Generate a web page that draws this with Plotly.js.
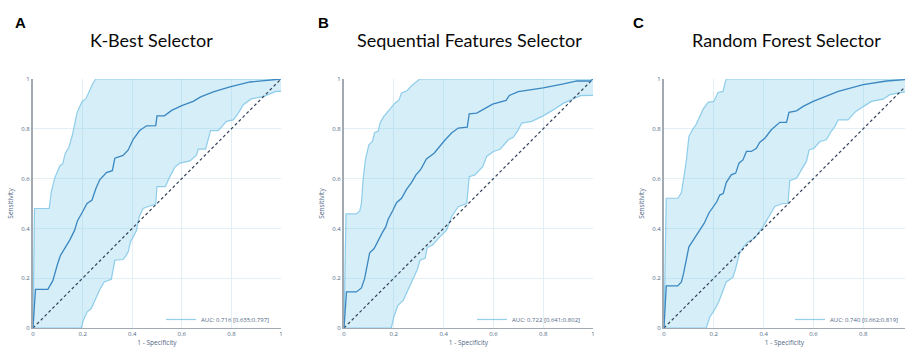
<!DOCTYPE html>
<html>
<head>
<meta charset="utf-8">
<script src="https://cdn.plot.ly/plotly-3.0.1.min.js"></script>
<style>html,body{margin:0;padding:0;background:#fff}#chart{width:905px;height:347px}</style>
</head>
<body>
<div id="chart"></div>
<script>
// ---------- data ----------
const panelLetters = ["A", "B", "C"];
const panelTitles = ["K-Best Selector", "Sequential Features Selector", "Random Forest Selector"];
const aucLabels = ["AUC: 0.716 [0.635;0.797]", "AUC: 0.722 [0.641;0.802]", "AUC: 0.740 [0.662;0.819]"];
const diagX = [0, 1];
const diagY = [0, 1];

const kbestMeanX = [0, 0.01, 0.06, 0.08, 0.097, 0.11, 0.128, 0.148, 0.168, 0.179, 0.2, 0.218, 0.238, 0.254, 0.269, 0.296, 0.32, 0.33, 0.363, 0.384, 0.404, 0.43, 0.458, 0.495, 0.5, 0.53, 0.559, 0.6, 0.646, 0.676, 0.727, 0.794, 0.875, 1];
const kbestMeanY = [0, 0.155, 0.155, 0.19, 0.25, 0.29, 0.32, 0.353, 0.393, 0.43, 0.467, 0.5, 0.514, 0.561, 0.595, 0.624, 0.632, 0.682, 0.693, 0.715, 0.758, 0.793, 0.812, 0.813, 0.852, 0.852, 0.874, 0.893, 0.91, 0.928, 0.948, 0.968, 0.988, 1];
const kbestUpX = [0, 0.006, 0.065, 0.074, 0.087, 0.108, 0.12, 0.13, 0.145, 0.159, 0.178, 0.198, 0.213, 0.226, 0.242, 0.253, 1];
const kbestUpY = [0, 0.48, 0.48, 0.548, 0.601, 0.651, 0.66, 0.702, 0.726, 0.776, 0.866, 0.91, 0.92, 0.95, 0.984, 1, 1];
const kbestLoX = [0, 0.195, 0.202, 0.218, 0.235, 0.252, 0.269, 0.287, 0.316, 0.33, 0.363, 0.374, 0.384, 0.393, 0.404, 0.417, 0.428, 0.444, 0.471, 0.495, 0.5, 0.534, 0.552, 0.572, 0.592, 0.633, 0.66, 0.666, 0.696, 0.707, 0.716, 0.747, 0.78, 0.808, 0.828, 0.848, 0.88, 0.93, 0.98, 0.995, 1];
const kbestLoY = [0, 0, 0.028, 0.064, 0.078, 0.118, 0.154, 0.185, 0.196, 0.272, 0.275, 0.289, 0.306, 0.346, 0.369, 0.39, 0.447, 0.48, 0.49, 0.498, 0.568, 0.568, 0.608, 0.646, 0.662, 0.671, 0.695, 0.718, 0.718, 0.756, 0.793, 0.793, 0.83, 0.836, 0.863, 0.897, 0.92, 0.93, 0.95, 0.95, 0.95];

const seqMeanX = [0, 0.01, 0.05, 0.07, 0.083, 0.093, 0.103, 0.121, 0.134, 0.154, 0.168, 0.177, 0.195, 0.211, 0.231, 0.251, 0.271, 0.289, 0.309, 0.331, 0.362, 0.383, 0.403, 0.432, 0.459, 0.495, 0.503, 0.533, 0.553, 0.597, 0.651, 0.664, 0.7, 0.8, 0.882, 0.936, 0.99, 1];
const seqMeanY = [0, 0.145, 0.145, 0.161, 0.199, 0.252, 0.302, 0.319, 0.346, 0.383, 0.407, 0.436, 0.47, 0.503, 0.521, 0.557, 0.584, 0.615, 0.638, 0.679, 0.702, 0.729, 0.752, 0.783, 0.803, 0.807, 0.86, 0.863, 0.874, 0.899, 0.914, 0.934, 0.949, 0.964, 0.98, 0.992, 0.992, 1];
const seqUpX = [0, 0.008, 0.05, 0.063, 0.07, 0.077, 0.087, 0.1, 0.114, 0.123, 0.137, 0.146, 0.16, 0.181, 0.204, 0.221, 0.231, 0.254, 0.271, 0.292, 0.305, 1];
const seqUpY = [0, 0.458, 0.458, 0.47, 0.5, 0.601, 0.682, 0.736, 0.749, 0.785, 0.79, 0.826, 0.85, 0.874, 0.903, 0.916, 0.944, 0.954, 0.973, 0.99, 1, 1];
const seqLoX = [0, 0.19, 0.2, 0.217, 0.238, 0.258, 0.278, 0.295, 0.305, 0.326, 0.334, 0.356, 0.379, 0.412, 0.432, 0.459, 0.493, 0.503, 0.526, 0.557, 0.573, 0.6, 0.627, 0.66, 0.68, 0.7, 0.714, 0.754, 0.8, 0.842, 0.882, 0.95, 0.996, 1];
const seqLoY = [0, 0, 0.044, 0.091, 0.111, 0.158, 0.199, 0.236, 0.272, 0.28, 0.322, 0.333, 0.36, 0.393, 0.447, 0.487, 0.5, 0.608, 0.615, 0.648, 0.689, 0.709, 0.718, 0.756, 0.766, 0.796, 0.823, 0.83, 0.852, 0.877, 0.903, 0.933, 0.934, 0.934];

const rfMeanX = [0, 0.009, 0.055, 0.07, 0.079, 0.09, 0.1, 0.113, 0.127, 0.143, 0.161, 0.181, 0.2, 0.212, 0.224, 0.238, 0.25, 0.27, 0.288, 0.301, 0.317, 0.331, 0.351, 0.371, 0.384, 0.405, 0.431, 0.465, 0.492, 0.502, 0.532, 0.559, 0.599, 0.652, 0.7, 0.8, 0.894, 1];
const rfMeanY = [0, 0.169, 0.169, 0.185, 0.221, 0.279, 0.326, 0.346, 0.369, 0.39, 0.42, 0.463, 0.487, 0.507, 0.534, 0.54, 0.584, 0.615, 0.622, 0.662, 0.675, 0.709, 0.709, 0.722, 0.745, 0.762, 0.796, 0.826, 0.826, 0.866, 0.872, 0.89, 0.91, 0.93, 0.95, 0.977, 0.992, 1];
const rfUpX = [0, 0.009, 0.056, 0.07, 0.079, 0.09, 0.1, 0.114, 0.13, 0.143, 0.157, 0.177, 0.2, 0.217, 0.237, 0.245, 0.25, 1];
const rfUpY = [0, 0.521, 0.521, 0.544, 0.601, 0.675, 0.769, 0.796, 0.819, 0.85, 0.879, 0.906, 0.91, 0.946, 0.95, 0.984, 1, 1];
const rfLoX = [0, 0.17, 0.184, 0.204, 0.22, 0.237, 0.25, 0.277, 0.288, 0.304, 0.32, 0.338, 0.364, 0.378, 0.398, 0.425, 0.445, 0.478, 0.498, 0.505, 0.532, 0.552, 0.572, 0.583, 0.603, 0.626, 0.652, 0.672, 0.686, 0.7, 0.739, 0.77, 0.8, 0.833, 0.88, 0.907, 0.967, 1];
const rfLoY = [0, 0, 0.044, 0.074, 0.105, 0.154, 0.185, 0.203, 0.239, 0.302, 0.326, 0.346, 0.36, 0.38, 0.407, 0.454, 0.488, 0.5, 0.5, 0.592, 0.601, 0.635, 0.669, 0.715, 0.722, 0.749, 0.756, 0.79, 0.809, 0.836, 0.836, 0.87, 0.89, 0.91, 0.919, 0.937, 0.948, 0.95];

// ---------- build ----------
const panels = [
  {meanX: kbestMeanX, meanY: kbestMeanY, upX: kbestUpX, upY: kbestUpY, loX: kbestLoX, loY: kbestLoY},
  {meanX: seqMeanX, meanY: seqMeanY, upX: seqUpX, upY: seqUpY, loX: seqLoX, loY: seqLoY},
  {meanX: rfMeanX, meanY: rfMeanY, upX: rfUpX, upY: rfUpY, loX: rfLoX, loY: rfLoY}
];

const W = 905, H = 347;
const xDomPx = [[33, 281], [344, 593], [664, 905]];
const xRanges = [[0, 1], [0, 1], [0, (905 - 664) / 249]];
const yDom = [19 / H, 268 / H];
const legendRight = [275, 586, 904];
const titleCx = [151, 469, 786];
const letterX = [20, 323, 638];

const FILL = "rgba(135,206,235,0.35)";
const EDGE = "rgba(120,195,230,0.8)";
const MEAN = "#3a87c1";
const TXT = "#506784";

const traces = [];
const layout = {
  width: W, height: H,
  margin: {l: 0, r: 0, t: 0, b: 0},
  paper_bgcolor: "#fff", plot_bgcolor: "#fff",
  font: {family: "Open Sans, sans-serif", size: 6, color: TXT},
  showlegend: true,
  annotations: []
};

panels.forEach((p, i) => {
  const sfx = i === 0 ? "" : String(i + 1);
  const xa = "x" + sfx, ya = "y" + sfx;
  const lg = "legend" + sfx;
  traces.push({x: p.loX, y: p.loY, xaxis: xa, yaxis: ya, mode: "lines", line: {color: EDGE, width: 1.2},
               name: aucLabels[i], legend: lg, showlegend: true, hoverinfo: "skip"});
  traces.push({x: p.upX, y: p.upY, xaxis: xa, yaxis: ya, mode: "lines", line: {color: EDGE, width: 1.2},
               fill: "tonexty", fillcolor: FILL, showlegend: false, hoverinfo: "skip"});
  traces.push({x: diagX, y: diagY, xaxis: xa, yaxis: ya, mode: "lines",
               line: {color: "#34435a", width: 1.2, dash: "3px,2.5px"}, showlegend: false});
  traces.push({x: p.meanX, y: p.meanY, xaxis: xa, yaxis: ya, mode: "lines",
               line: {color: MEAN, width: 1.3}, showlegend: false});

  layout["xaxis" + sfx] = {
    domain: [xDomPx[i][0] / W, xDomPx[i][1] / W], range: xRanges[i], anchor: ya,
    showgrid: true, gridcolor: "#e2f0f6", gridwidth: 1, zeroline: false,
    showline: true, linecolor: "#a3a9b0", linewidth: 1.2,
    tickvals: [0, 0.2, 0.4, 0.6, 0.8, 1], ticktext: ["0", "0.2", "0.4", "0.6", "0.8", "1"],
    ticks: "", tickfont: {size: 6, color: TXT},
    title: {text: "1 - Specificity", font: {size: 6.5, color: TXT}, standoff: 4},
    automargin: false
  };
  layout["yaxis" + sfx] = {
    domain: yDom, range: [0, 1], anchor: xa,
    showgrid: true, gridcolor: "#e2f0f6", gridwidth: 1, zeroline: false,
    showline: true, linecolor: "#a3a9b0", linewidth: 2,
    tickvals: [0, 0.2, 0.4, 0.6, 0.8, 1], ticktext: ["0", "0.2", "0.4", "0.6", "0.8", "1"],
    ticks: "", tickfont: {size: 6, color: TXT},
    title: {text: "Sensitivity", font: {size: 6.5, color: TXT}, standoff: 7},
    automargin: false
  };
  layout[lg] = {
    x: legendRight[i] / W, xanchor: "right", y: 13 / H, yanchor: "bottom",
    bgcolor: "rgba(255,255,255,0)", font: {size: 6, color: TXT},
    itemwidth: 30, tracegroupgap: 0
  };
  layout.annotations.push({
    text: "<b>" + panelLetters[i] + "</b>", xref: "paper", yref: "paper",
    x: letterX[i] / W, y: 1 - 22 / H, xanchor: "center", yanchor: "middle", showarrow: false,
    font: {family: "Liberation Sans, Arial, sans-serif", size: 15, color: "#000"}
  });
  layout.annotations.push({
    text: panelTitles[i], xref: "paper", yref: "paper",
    x: titleCx[i] / W, y: 1 - 40 / H, xanchor: "center", yanchor: "middle", showarrow: false,
    font: {family: "Lato, sans-serif", size: 18, color: "#0a0a0a"}
  });
});

Plotly.newPlot("chart", traces, layout, {displayModeBar: false, staticPlot: true});
</script>
</body>
</html>
